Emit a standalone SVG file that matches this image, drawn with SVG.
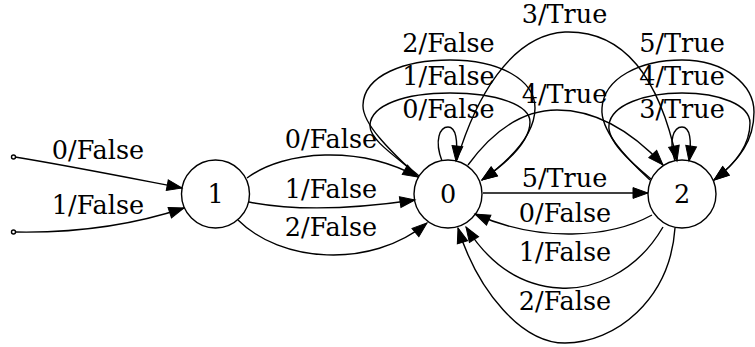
<svg xmlns="http://www.w3.org/2000/svg" width="755" height="347" viewBox="0 0 755 347">
<style>
.n{fill:none;stroke:#000;stroke-width:1.4}
.e{fill:none;stroke:#000;stroke-width:1.4;marker-end:url(#ah)}
text{font-family:"DejaVu Serif","Liberation Serif",serif;font-size:25.5px;fill:#000}
.c{text-anchor:middle}
</style>
<defs>
<marker id="ah" markerUnits="userSpaceOnUse" markerWidth="17" markerHeight="13" refX="15" refY="6" orient="auto" overflow="visible">
<path d="M0,0.6 L15,6 L0,11.4 z" fill="#000" stroke="#000" stroke-width="1"/>
</marker>
</defs>
<rect width="755" height="347" fill="#fff"/>
<g id="start0"><circle cx="13.5" cy="157" r="2" class="n"/></g>
<g id="start1"><circle cx="13.5" cy="232" r="2" class="n"/></g>
<g id="node1"><circle cx="215.5" cy="194" r="34" class="n"/><text x="215.5" y="203" class="c">1</text></g>
<g id="node0"><circle cx="448" cy="194" r="34" class="n"/><text x="448" y="203" class="c">0</text></g>
<g id="node2"><circle cx="682" cy="194" r="34" class="n"/><text x="682" y="203" class="c">2</text></g>
<g id="edges">
<path class="e" d="M15,157 C70,166 130,178 182,188"/>
<path class="e" d="M15,232 C70,233 130,226 184,208"/>
<path class="e" d="M247,178 C285,150 360,145 418,177"/>
<path class="e" d="M249,202 C300,212 360,208 415,200"/>
<path class="e" d="M238,220 C280,262 370,270 427,223"/>
<path class="e" d="M442,161 C434,140 440,127 448,127 C456,127 458,140 456,161"/>
<path class="e" d="M418,177 C395,155 362,125 363,105 C364,75 405,60 450,60 C500,60 535,80 535,108 C535,135 510,160 482,180"/>
<path class="e" d="M419,176 C398,158 369,140 370,125 C371,105 405,93 450,93 C497,93 530,105 530,122 C530,142 508,162 482,180"/>
<path class="e" d="M457,160 C475,100 510,35 565,32 C625,30 660,80 677,161"/>
<path class="e" d="M468,165 C490,135 520,110 557,110 C600,110 635,135 663,165"/>
<path class="e" d="M483,193 L648,193"/>
<path class="e" d="M675,161 C668,140 674,127 682,127 C690,127 692,140 689,161"/>
<path class="e" d="M650,180 C625,157 600,130 602,108 C604,78 640,60 682,60 C725,60 754,85 754,112 C754,140 740,160 714,180"/>
<path class="e" d="M651,179 C628,160 607,140 609,125 C611,105 645,93 682,93 C720,93 750,105 750,123 C750,143 738,162 714,180"/>
<path class="e" d="M652,215 C610,238 540,243 475,214"/>
<path class="e" d="M663,227 C635,275 590,290 560,288 C520,286 490,265 466,227"/>
<path class="e" d="M675,228 C670,300 615,343 565,343 C522,343 478,292 458,228"/>
</g>
<g id="labels">
<text x="98" y="159" class="c">0/False</text>
<text x="98" y="214" class="c">1/False</text>
<text x="331" y="148" class="c">0/False</text>
<text x="331" y="198" class="c">1/False</text>
<text x="331" y="236" class="c">2/False</text>
<text x="448.5" y="52" class="c">2/False</text>
<text x="448.5" y="85" class="c">1/False</text>
<text x="448.5" y="118" class="c">0/False</text>
<text x="564.5" y="23" class="c">3/True</text>
<text x="564.5" y="103" class="c">4/True</text>
<text x="564.5" y="187" class="c">5/True</text>
<text x="682" y="52" class="c">5/True</text>
<text x="682" y="85" class="c">4/True</text>
<text x="682" y="118" class="c">3/True</text>
<text x="565" y="222" class="c">0/False</text>
<text x="565" y="261" class="c">1/False</text>
<text x="565" y="310" class="c">2/False</text>
</g>
</svg>
